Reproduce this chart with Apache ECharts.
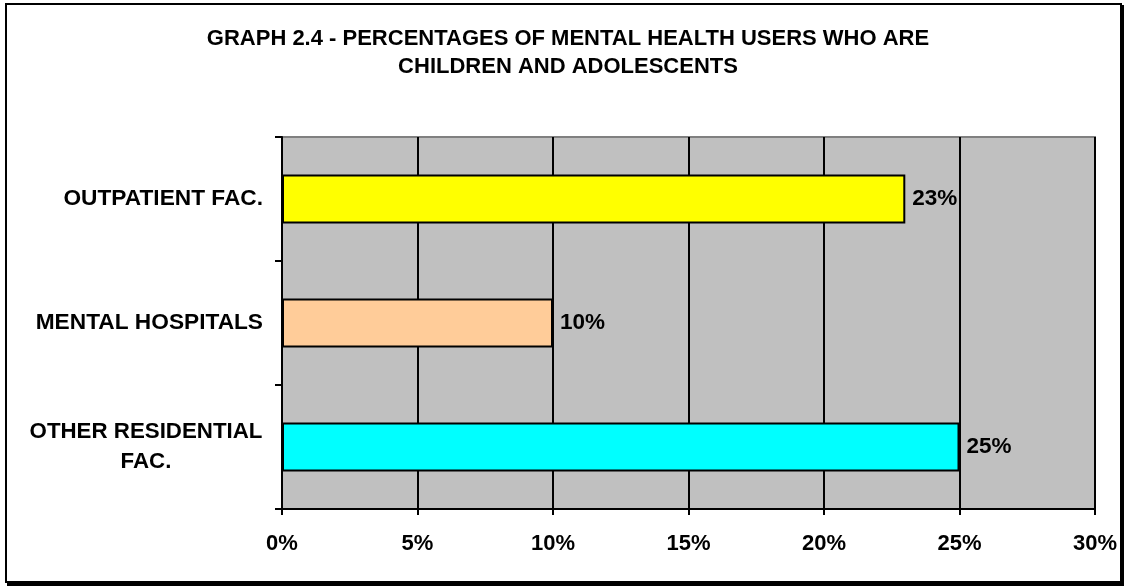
<!DOCTYPE html>
<html>
<head>
<meta charset="utf-8">
<script src="https://cdn.jsdelivr.net/npm/echarts@6/dist/echarts.min.js"></script>
<style>
html,body{margin:0;padding:0;background:#fff;}
#chart{width:1125px;height:588px;}
</style>
</head>
<body>
<div id="chart"></div>
<script>
const titleText = 'GRAPH 2.4 - PERCENTAGES OF MENTAL HEALTH USERS WHO ARE\nCHILDREN AND ADOLESCENTS';
const categories = ['OTHER RESIDENTIAL\nFAC.', 'MENTAL HOSPITALS', 'OUTPATIENT FAC.'];
const values = [25, 10, 23];
const barColors = ['#00FFFF', '#FFCC99', '#FFFF00'];
const xTicks = [0, 5, 10, 15, 20, 25, 30];

const FONT = "'Liberation Sans', Arial, sans-serif";
const chart = echarts.init(document.getElementById('chart'), null, {renderer: 'canvas'});
chart.setOption({
  backgroundColor: '#ffffff',
  animation: false,
  title: {
    text: titleText,
    left: 563,
    top: 19.5,
    textAlign: 'center',
    textStyle: {fontFamily: FONT, fontSize: 22, fontWeight: 'bold', color: '#000', lineHeight: 28}
  },
  graphic: [
    {type: 'rect', shape: {x: 6, y: 4, width: 1115, height: 578}, style: {fill: 'none', stroke: '#000', lineWidth: 2}, z: 100},
    {type: 'rect', shape: {x: 1120, y: 5, width: 4, height: 581}, style: {fill: '#000'}, z: 100},
    {type: 'rect', shape: {x: 7, y: 582, width: 1117, height: 4}, style: {fill: '#000'}, z: 100}
  ],
  grid: {
    left: 282, right: 30, top: 137, bottom: 79,
    show: true, backgroundColor: '#C0C0C0', borderColor: '#808080', borderWidth: 2
  },
  xAxis: {
    type: 'value',
    min: xTicks[0], max: xTicks[xTicks.length - 1], interval: 5,
    axisLine: {show: true, lineStyle: {color: '#000', width: 2}},
    axisTick: {show: true, length: 6, lineStyle: {color: '#000', width: 2}},
    splitLine: {show: true, lineStyle: {color: '#000', width: 2}},
    axisLabel: {formatter: '{value}%', margin: 24, fontFamily: FONT, fontSize: 22, fontWeight: 'bold', color: '#000'}
  },
  yAxis: {
    type: 'category',
    data: categories,
    axisLine: {show: true, lineStyle: {color: '#000', width: 2}},
    axisTick: {show: true, length: 7, lineStyle: {color: '#000', width: 2}},
    axisLabel: {
      margin: 19, align: 'right',
      fontFamily: FONT, fontSize: 22.7, fontWeight: 'bold', color: '#000',
      formatter: function (v) {
        if (v.indexOf('\n') >= 0) {
          return v.split('\n').map(s => '{m|' + s + '}').join('\n');
        }
        return v;
      },
      rich: {
        m: {width: 234, align: 'center', lineHeight: 30, fontFamily: FONT, fontSize: 22.3, fontWeight: 'bold', color: '#000'}
      }
    }
  },
  series: [{
    type: 'bar',
    data: values.map((v, i) => ({value: v, itemStyle: {color: barColors[i]}})),
    barWidth: 49,
    itemStyle: {borderColor: '#000', borderWidth: 2},
    label: {
      show: true, position: 'right', distance: 7,
      formatter: '{c}%',
      fontFamily: FONT, fontSize: 22.5, fontWeight: 'bold', color: '#000'
    }
  }]
});
</script>
</body>
</html>
